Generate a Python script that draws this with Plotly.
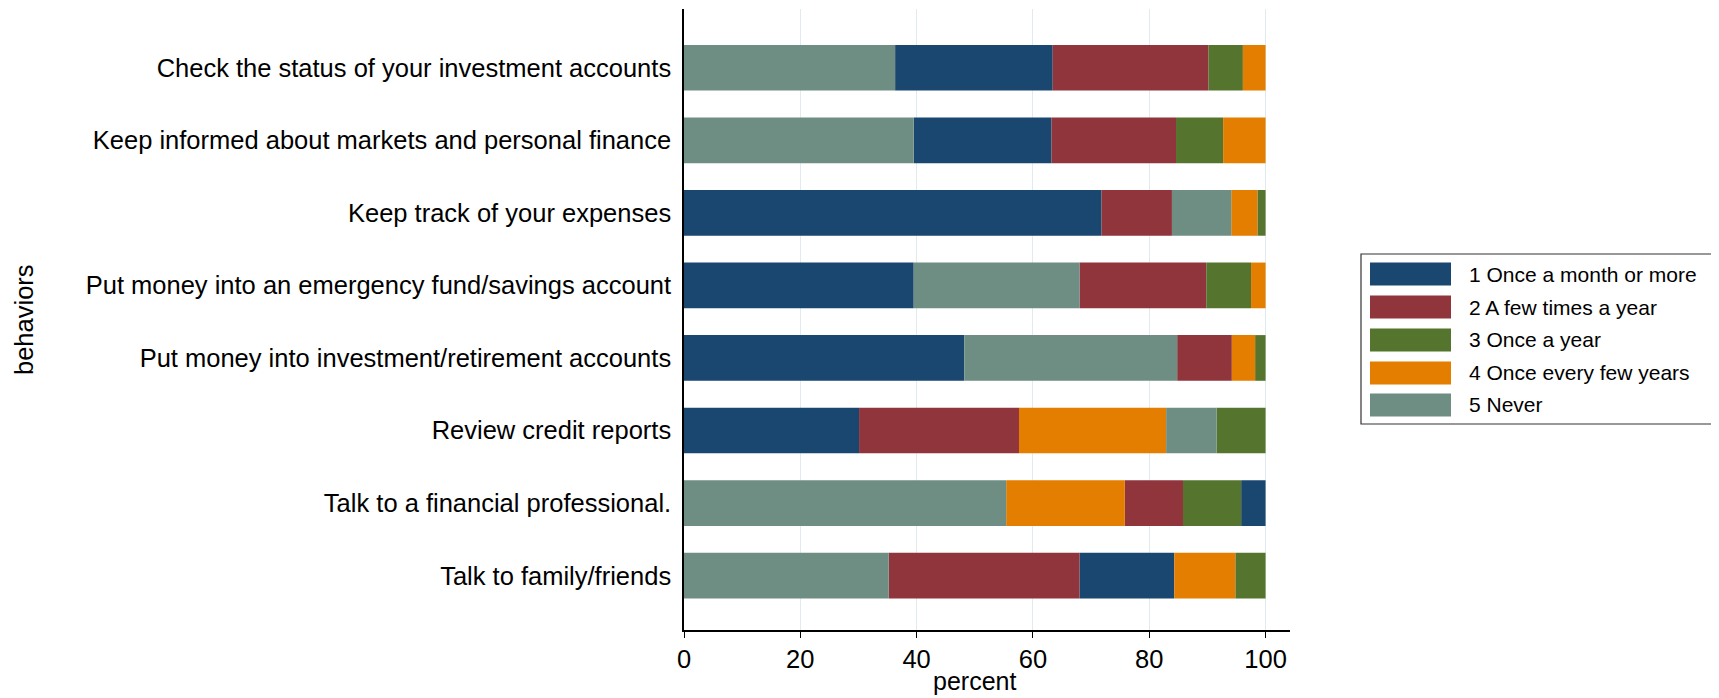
import plotly.graph_objects as go

behaviors = [
    "Check the status of your investment accounts",
    "Keep informed about markets and personal finance",
    "Keep track of your expenses",
    "Put money into an emergency fund/savings account",
    "Put money into investment/retirement accounts",
    "Review credit reports",
    "Talk to a financial professional.",
    "Talk to family/friends",
]
categories = [
    "1 Once a month or more",
    "2 A few times a year",
    "3 Once a year",
    "4 Once every few years",
    "5 Never",
]
once_a_month = [27.1, 23.7, 71.8, 39.5, 48.2, 30.1, 4.2, 16.3]
few_times_year = [26.8, 21.4, 12.1, 21.8, 9.4, 27.5, 10.0, 32.8]
once_a_year = [5.9, 8.1, 1.4, 7.7, 1.8, 8.4, 10.0, 5.2]
every_few_years = [3.9, 7.3, 4.5, 2.5, 4.0, 25.3, 20.4, 10.5]
never = [36.3, 39.5, 10.2, 28.5, 36.6, 8.7, 55.4, 35.2]
x_ticks = [0, 20, 40, 60, 80, 100]

series = [once_a_month, few_times_year, once_a_year, every_few_years, never]
colors = ["#1a476f", "#90353b", "#55752f", "#e37e00", "#6e8e84"]

# per-row ordering: largest segment first (Stata's stacked sorting)
bases = [[0.0] * len(behaviors) for _ in series]
for r in range(len(behaviors)):
    order = sorted(range(len(series)), key=lambda k: -series[k][r])
    acc = 0.0
    for k in order:
        bases[k][r] = acc
        acc += series[k][r]

FONT = "Liberation Sans, Arial, sans-serif"
OFF = 8  # page body margin
W, H = 1719 - OFF, 698 - OFF
L, R, T, B = 684 - OFF, 1290 - OFF, 9 - OFF, 630 - OFF  # plot area in figure pixels

fig = go.Figure()
for k, cat in enumerate(categories):
    fig.add_trace(go.Bar(
        y=behaviors, x=series[k], base=bases[k], orientation="h",
        name=cat, marker=dict(color=colors[k], line=dict(width=0)),
        width=0.63, showlegend=False,
    ))

def px(xp):
    return (xp - OFF - L) / (R - L)

def py(yp):
    return (B - (yp - OFF)) / (B - T)

shapes = []
annotations = []
# legend box
shapes.append(dict(type="rect", xref="paper", yref="paper",
                   x0=px(1361), x1=px(1718), y0=py(424), y1=py(254),
                   line=dict(color="#333333", width=1.2), fillcolor="white"))
centers = [274, 307, 340, 373, 405]
for k, cat in enumerate(categories):
    cy = centers[k]
    shapes.append(dict(type="rect", xref="paper", yref="paper",
                       x0=px(1370), x1=px(1451), y0=py(cy + 11.5), y1=py(cy - 11.5),
                       line=dict(width=0), fillcolor=colors[k]))
    annotations.append(dict(xref="paper", yref="paper", x=px(1467), y=py(cy),
                            text=cat, showarrow=False, xanchor="left", yanchor="middle",
                            font=dict(size=21, color="black", family=FONT)))
# y-axis title
annotations.append(dict(xref="paper", yref="paper", x=px(24), y=py(320),
                        text="behaviors", textangle=-90, showarrow=False,
                        xanchor="center", yanchor="middle",
                        font=dict(size=25.5, color="black", family=FONT)))
# x-axis title
annotations.append(dict(xref="paper", yref="paper", x=px(974), y=py(681),
                        text="percent", showarrow=False,
                        xanchor="center", yanchor="middle",
                        font=dict(size=25, color="black", family=FONT)))

fig.update_layout(
    width=W, height=H,
    margin=dict(l=L, r=W - R, t=T, b=H - B, pad=0),
    barmode="overlay",
    plot_bgcolor="white", paper_bgcolor="white",
    font=dict(family=FONT, size=25.5, color="black"),
    shapes=shapes, annotations=annotations,
    showlegend=False,
)
fig.update_xaxes(
    range=[0, 104.2], tickvals=x_ticks, ticks="outside", ticklen=6,
    tickcolor="black", tickwidth=1.2,
    showline=True, linecolor="black", linewidth=1.5,
    showgrid=True, gridcolor="#e1ebef", gridwidth=1.2,
    zeroline=False, tickfont=dict(size=25.5, family=FONT, color="black"),
)
fig.update_yaxes(
    type="category", categoryorder="array", categoryarray=behaviors,
    range=[7.75, -0.81], showline=True, linecolor="black", linewidth=1.5,
    showgrid=False, ticks="", ticklabelstandoff=6,
    tickfont=dict(size=25.5, family=FONT, color="black"),
)
fig.write_html("out.html")
